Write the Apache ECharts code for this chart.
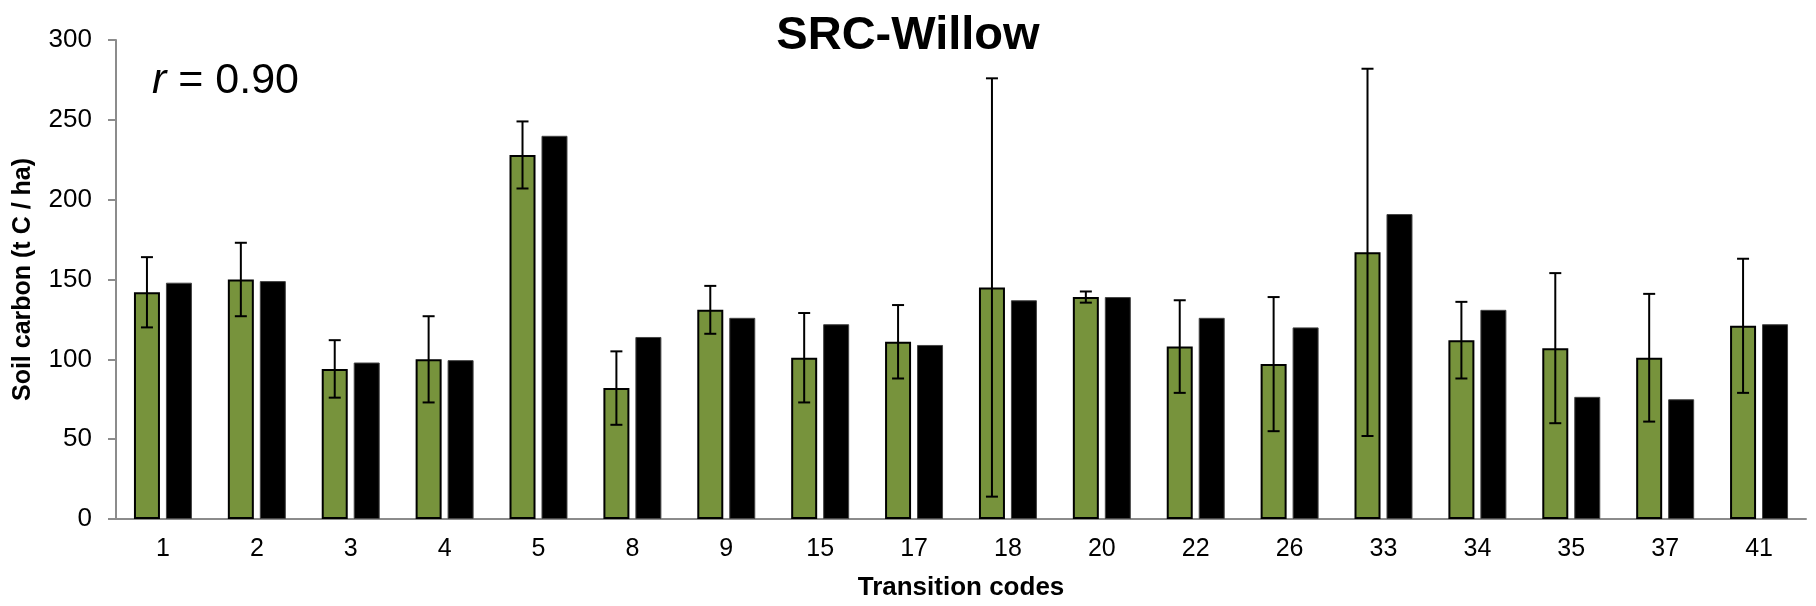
<!DOCTYPE html>
<html>
<head>
<meta charset="utf-8">
<script src="https://cdn.jsdelivr.net/npm/echarts@6/dist/echarts.min.js"></script>
<style>
  html, body { margin: 0; padding: 0; background: #fff; }
  #main { width: 1816px; height: 606px; }
</style>
</head>
<body>
<div id="main"></div>
<script>
// transition codes on the x axis
var codes = ['1', '2', '3', '4', '5', '8', '9', '15', '17', '18', '20', '22', '26', '33', '34', '35', '37', '41'];
// green bars (measured) and their error half-widths
var measured = [142, 150, 94, 100, 228, 82, 131, 101, 111, 145, 139, 108, 97, 167, 112, 107, 101, 121];
var measuredErr = [22, 23, 18, 27, 21, 23, 15, 28, 23, 131, 3.5, 29, 42, 115, 24, 47, 40, 42];
// black bars (modelled)
var modelled = [148, 149, 98, 99.5, 240, 114, 126, 122, 109, 137, 139, 126, 120, 191, 131, 76.5, 75, 122];
var yTicks = [0, 50, 100, 150, 200, 250, 300];

var myChart = echarts.init(document.getElementById('main'));

var BAR_W = 26;
var errData = measured.map(function (v, i) {
  return [i, v - measuredErr[i], v + measuredErr[i]];
});

var font = 'Liberation Sans, Arial, sans-serif';

var option = {
  animation: false,
  title: {
    text: 'SRC-Willow',
    left: 'center',
    top: 8,
    textStyle: { fontFamily: font, fontSize: 47, fontWeight: 'bold', color: '#000' }
  },
  graphic: [{
    type: 'text',
    left: 152,
    top: 60,
    style: {
      text: '{i|r} = 0.90',
      font: '43px ' + font,
      fill: '#000',
      rich: { i: { fontStyle: 'italic', fontSize: 43, fontFamily: font } }
    }
  }],
  grid: { left: 116, right: 10, top: 40, bottom: 85 },
  xAxis: {
    type: 'category',
    data: codes,
    name: 'Transition codes',
    nameLocation: 'middle',
    nameGap: 56,
    nameTextStyle: { fontFamily: font, fontSize: 26, fontWeight: 'bold', color: '#000' },
    axisLine: { lineStyle: { color: '#8c8c8c', width: 2 } },
    axisTick: { length: 8, lineStyle: { color: '#8c8c8c', width: 2 } },
    axisLabel: { fontFamily: font, fontSize: 25, color: '#000', margin: 18 }
  },
  yAxis: {
    type: 'value',
    min: yTicks[0],
    max: yTicks[yTicks.length - 1],
    interval: 50,
    name: 'Soil carbon (t C / ha)',
    nameLocation: 'middle',
    nameGap: 80,
    nameTextStyle: { fontFamily: font, fontSize: 25, fontWeight: 'bold', color: '#000' },
    splitLine: { show: false },
    axisLine: { show: true, lineStyle: { color: '#8c8c8c', width: 2 } },
    axisTick: { show: true, length: 8, lineStyle: { color: '#8c8c8c', width: 2 } },
    axisLabel: { fontFamily: font, fontSize: 26, color: '#000', margin: 24 }
  },
  series: [
    {
      name: 'Measured',
      type: 'bar',
      data: measured,
      barWidth: BAR_W,
      barGap: '23%',
      itemStyle: { color: '#77933C', borderColor: '#000', borderWidth: 2 }
    },
    {
      name: 'Modelled',
      type: 'bar',
      data: modelled,
      barWidth: BAR_W,
      itemStyle: { color: '#000', borderColor: '#444', borderWidth: 1 }
    },
    {
      name: 'err',
      type: 'custom',
      data: errData,
      z: 10,
      renderItem: function (params, api) {
        var lo = api.coord([api.value(0), api.value(1)]);
        var hi = api.coord([api.value(0), api.value(2)]);
        var off = -(BAR_W + BAR_W * 0.23) / 2;
        var x = lo[0] + off;
        var cap = 6;
        var st = { stroke: '#000', lineWidth: 2 };
        return {
          type: 'group',
          children: [
            { type: 'line', shape: { x1: x, y1: lo[1], x2: x, y2: hi[1] }, style: st },
            { type: 'line', shape: { x1: x - cap, y1: lo[1], x2: x + cap, y2: lo[1] }, style: st },
            { type: 'line', shape: { x1: x - cap, y1: hi[1], x2: x + cap, y2: hi[1] }, style: st }
          ]
        };
      }
    }
  ]
};

myChart.setOption(option);
</script>
</body>
</html>
